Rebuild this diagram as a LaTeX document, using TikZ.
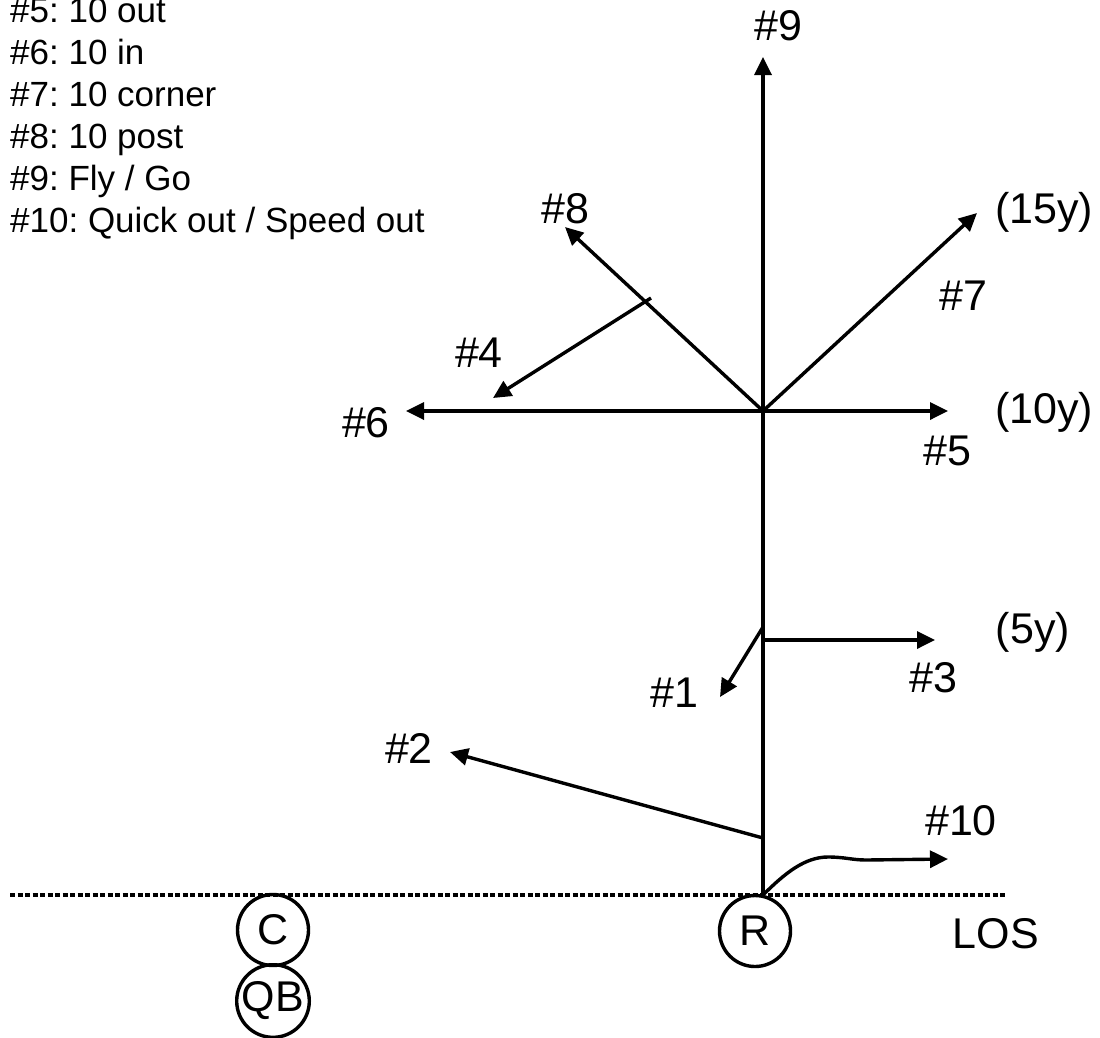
\documentclass[tikz,border=0pt]{standalone}
\usepackage{fontspec}
\setmainfont{Liberation Sans}
\usetikzlibrary{arrows.meta}
\frenchspacing
\tikzset{
  route/.style={line width=3.4pt, -{Triangle[length=18pt,width=17pt]}},
  lbl/.style={font=\fontsize{43}{50}\selectfont, inner sep=0pt, anchor=base},
  legendline/.style={font=\fontsize{35}{42}\selectfont, inner sep=0pt, anchor=base west},
  player/.style={circle, draw, line width=3.4pt, minimum size=71pt, inner sep=0pt, font=\fontsize{43}{50}\selectfont},
  losline/.style={line width=4pt, dash pattern=on 5pt off 2.5pt}
}
\begin{document}
\begin{tikzpicture}[x=1pt,y=-1pt]
\useasboundingbox (0,0) rectangle (1100,1037);
% legend
\node[legendline] (l5) at (10,22) {\#5: 10 out};
\node[legendline] (l6) at (10,64) {\#6: 10 in};
\node[legendline] (l7) at (10,106) {\#7: 10 corner};
\node[legendline] (l8) at (10,148) {\#8: 10 post};
\node[legendline] (l9) at (10,190) {\#9: Fly / Go};
\node[legendline] (l10) at (10,232) {\#10: Quick out / Speed out};
% key points
\coordinate (snap) at (763,895);
\coordinate (c10) at (763,411);
\coordinate (c5) at (763,640);
\coordinate (c1) at (763,627);
\coordinate (c2) at (763,838);
\coordinate (c4) at (651,298);
\coordinate (t9) at (763,57);
\coordinate (t6) at (406,411);
\coordinate (t5) at (948,411);
\coordinate (t7) at (977,213);
\coordinate (t8) at (565,227);
\coordinate (t4) at (493,398);
\coordinate (t1) at (720,697);
\coordinate (t3) at (935,640);
\coordinate (t2) at (450,752);
\coordinate (t10) at (948,859);
\coordinate (losA) at (10,895);
\coordinate (losB) at (1005,895);
% line of scrimmage
\draw[losline] (losA) -- (losB);
% routes
\draw[route] (snap) -- (t9);
\draw[route] (c10) -- (t6);
\draw[route] (c10) -- (t5);
\draw[route] (c10) -- (t7);
\draw[route] (c10) -- (t8);
\draw[route] (c4) -- (t4);
\draw[route] (c1) -- (t1);
\draw[route] (c5) -- (t3);
\draw[route] (c2) -- (t2);
\draw[route] (snap) .. controls (785,873) and (805,857) .. (828,857) .. controls (845,857) and (852,860) .. (866,860) -- (t10);
% players
\node[player] (C) at (273,930) {C};
\node[player] (QB) at (273,1001) {QB};
\node[player] (R) at (755,931) {R};
% labels
\node[lbl] (n9) at (778,40) {\#9};
\node[lbl] (n8) at (565,223) {\#8};
\node[lbl] (n7) at (963,310) {\#7};
\node[lbl] (y15) at (1044,223) {(15y)};
\node[lbl] (n4) at (479,367) {\#4};
\node[lbl] (n6) at (366,437) {\#6};
\node[lbl] (n5) at (947,465) {\#5};
\node[lbl] (y10) at (1044,423) {(10y)};
\node[lbl] (y5) at (1033,643) {(5y)};
\node[lbl] (n3) at (933,692) {\#3};
\node[lbl] (n1) at (674,707) {\#1};
\node[lbl] (n2) at (409,763) {\#2};
\node[lbl] (n10) at (961,835) {\#10};
\node[lbl] (los) at (996,948) {LOS};
\end{tikzpicture}
\end{document}
